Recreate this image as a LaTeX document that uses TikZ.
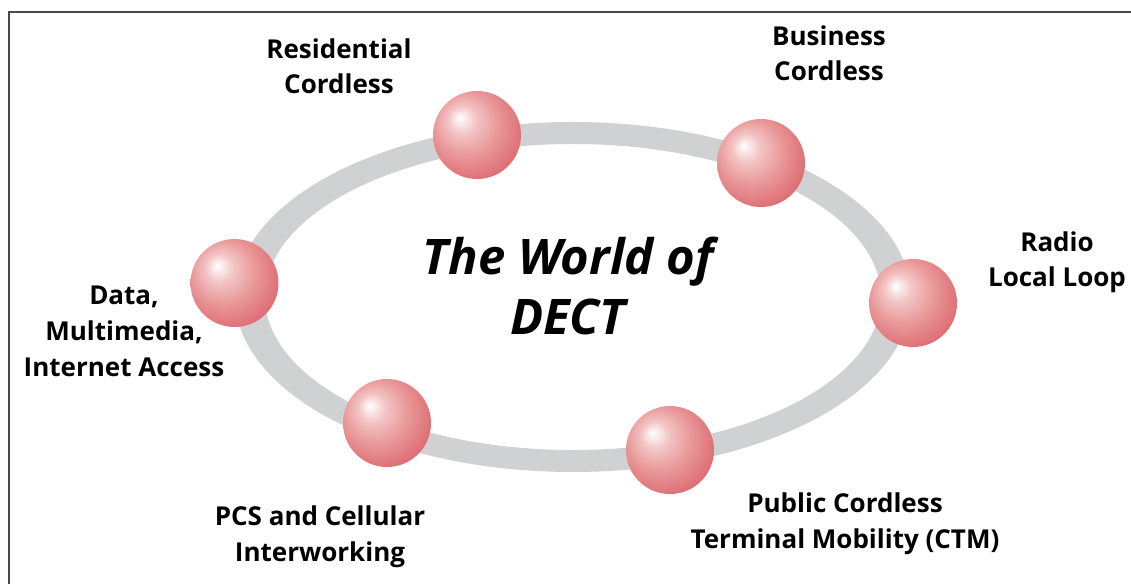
\documentclass[tikz,border=0pt]{standalone}
\usepackage{fontspec}
\setmainfont{Open Sans}
\definecolor{ringgray}{HTML}{D0D1D3}
\definecolor{framegray}{HTML}{4A4A4A}
\definecolor{ballA}{HTML}{F3C4C4}
\definecolor{ballB}{HTML}{E9999A}
\definecolor{ballC}{HTML}{DE6E74}
\definecolor{ballD}{HTML}{D03E4C}
\pgfdeclareradialshading{redball}{\pgfpoint{-10bp}{10bp}}{color(0bp)=(white); color(8bp)=(ballA); color(18bp)=(ballB); color(30bp)=(ballC); color(40bp)=(ballD); color(50bp)=(ballD)}
\tikzset{
  ball/.style={circle, minimum size=88pt, inner sep=0pt, shading=redball},
  lbl/.style={font=\bfseries\fontsize{26}{35.5}\selectfont, align=center, anchor=base, inner sep=0pt},
  ttl/.style={font=\bfseries\itshape\fontsize{49}{60}\selectfont, align=center, anchor=base, inner sep=0pt}
}
\begin{document}
\begin{tikzpicture}[x=1pt,y=1pt]
\useasboundingbox (0,0) rectangle (1131,584);
\draw[line width=1.5pt, framegray] (1131,572) -- (9,572) -- (9,0);
% ring
\coordinate (c) at (573,287);
\fill[ringgray, even odd rule] (c) ellipse [x radius=338, y radius=175] (c) ellipse [x radius=308, y radius=153];
% balls
\node[ball] (res) at (477,449) {};
\node[ball] (bus) at (761,421) {};
\node[ball] (rad) at (913,281) {};
\node[ball] (dat) at (234.5,301) {};
\node[ball] (pcs) at (387,161) {};
\node[ball] (pub) at (670,134) {};
% labels (anchor base = last line baseline)
\node[lbl] (lres) at (339,490) {Residential\\Cordless};
\node[lbl] (lbus) at (829,503) {Business\\Cordless};
\node[lbl] (lrad) at (1057,297) {Radio\\Local Loop};
\node[lbl] (ldat) at (124,208) {Data,\\Multimedia,\\Internet Access};
\node[lbl] (lpcs) at (320,23) {PCS and Cellular\\Interworking};
\node[lbl] (lpub) at (845,36) {Public Cordless\\Terminal Mobility (CTM)};
% title
\node[ttl] (title) at (568,249) {The World of\\DECT};
\end{tikzpicture}
\end{document}
